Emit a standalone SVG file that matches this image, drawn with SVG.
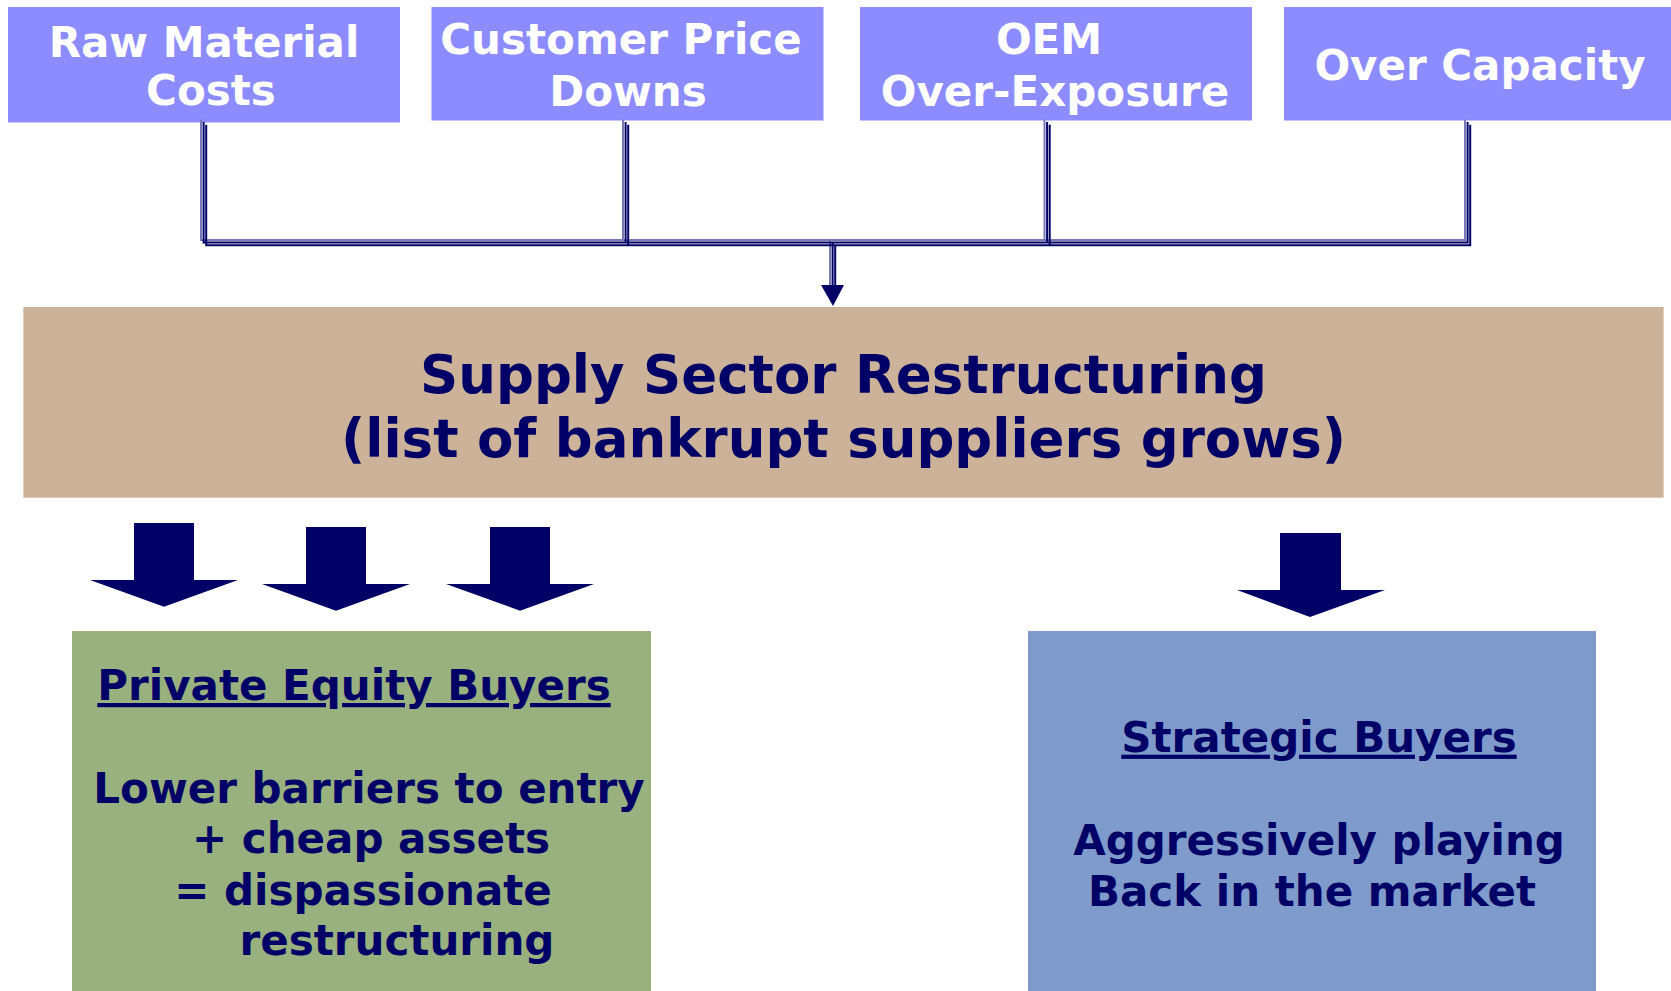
<svg xmlns="http://www.w3.org/2000/svg" xmlns:xlink="http://www.w3.org/1999/xlink" width="1671" height="991" viewBox="0 0 1671 991">
<style>
.top{fill:#8C8CFF}
.ttxt{font-family:"DejaVu Sans",Verdana,sans-serif;font-weight:bold;font-size:42px;fill:#FFFFFF;text-anchor:middle}
.ntxt{font-family:"DejaVu Sans",Verdana,sans-serif;font-weight:bold;font-size:42px;fill:#000066;text-anchor:middle}
.title{font-family:"DejaVu Sans",Verdana,sans-serif;font-weight:bold;font-size:53px;fill:#000066;text-anchor:middle}
.blk{fill:#000066}
.ln{fill:none;stroke-width:2}
.l1{stroke:#7878B4}
.l2{stroke:#000066}
</style>
<defs>
<path id="br" d="M201 119.5 V240 H1465 V119.5 M623 119.5 V240 M1044.5 119.5 V240 M830 240 V288"/>
</defs>
<rect width="1671" height="991" fill="#FFFFFF"/>
<g id="raw-material-costs">
<rect class="top" x="8" y="7" width="392" height="115.5"/>
<text class="ttxt" x="204" y="56.7">Raw Material</text>
<text class="ttxt" x="211" y="105">Costs</text>
</g>
<g id="customer-price-downs">
<rect class="top" x="431.5" y="7" width="392" height="113.5"/>
<text class="ttxt" x="621" y="54.3">Customer Price</text>
<text class="ttxt" x="628" y="105.7">Downs</text>
</g>
<g id="oem-over-exposure">
<rect class="top" x="860" y="7" width="392" height="113.5"/>
<text class="ttxt" x="1049" y="54.3">OEM</text>
<text class="ttxt" x="1055" y="105.7">Over-Exposure</text>
</g>
<g id="over-capacity">
<rect class="top" x="1284" y="7" width="387" height="113.5"/>
<text class="ttxt" x="1480" y="80">Over Capacity</text>
</g>
<g id="connectors">
<use xlink:href="#br" class="ln l1"/>
<use xlink:href="#br" class="ln l2" transform="translate(2.6,2.6)"/>
<use xlink:href="#br" class="ln l2" transform="translate(5.2,5.2)"/>
<polygon class="blk" points="821,285 844,285 833,306"/>
</g>
<g id="supply-sector-restructuring">
<rect x="23.4" y="307" width="1640.2" height="190.7" fill="#CBB298"/>
<text class="title" x="843.5" y="392.7">Supply Sector Restructuring</text>
<text class="title" x="843.5" y="456.7">(list of bankrupt suppliers grows)</text>
</g>
<g id="block-arrows">
<polygon class="blk" points="134,523 194,523 194,580 238,580 164,606.7 90,580 134,580"/>
<polygon class="blk" points="306,527 366,527 366,584 410,584 336,610.7 262,584 306,584"/>
<polygon class="blk" points="490,527 550,527 550,584 594,584 520,610.7 446,584 490,584"/>
<polygon class="blk" points="1280,533 1341,533 1341,590 1385,590 1310,617 1237,590 1280,590"/>
</g>
<g id="private-equity-buyers">
<rect x="72" y="631" width="579" height="360" fill="#99B07F"/>
<text class="ntxt" x="354" y="700" text-decoration="underline">Private Equity Buyers</text>
<text class="ntxt" x="369" y="803">Lower barriers to entry</text>
<text class="ntxt" x="371" y="853">+ cheap assets</text>
<text class="ntxt" x="363" y="905">= dispassionate</text>
<text class="ntxt" x="397" y="955">restructuring</text>
</g>
<g id="strategic-buyers">
<rect x="1028" y="631" width="568" height="360" fill="#7F9BCB"/>
<text class="ntxt" x="1319" y="751.7" text-decoration="underline">Strategic Buyers</text>
<text class="ntxt" x="1319" y="855">Aggressively playing</text>
<text class="ntxt" x="1312" y="906">Back in the market</text>
</g>
</svg>
